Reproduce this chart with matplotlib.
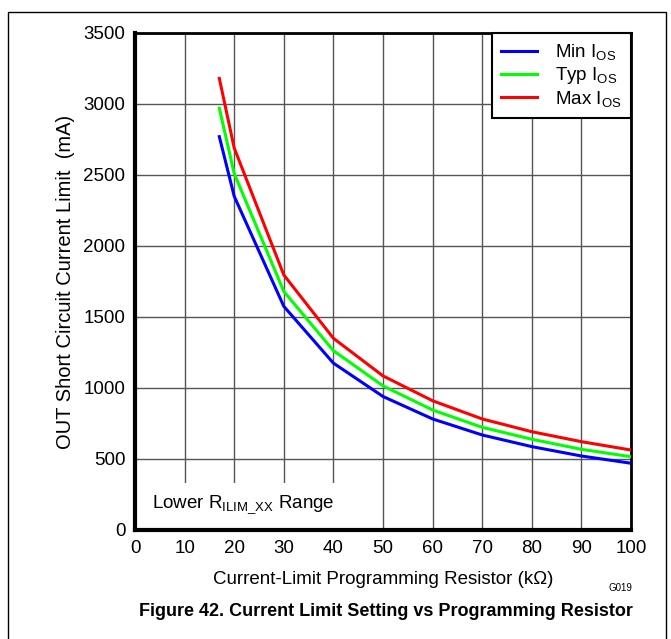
import numpy as np
import matplotlib
matplotlib.use("Agg")
import matplotlib.pyplot as plt
from matplotlib.patches import Rectangle

plt.rcParams['font.family'] = ['Liberation Sans', 'DejaVu Sans']
plt.rcParams['mathtext.fontset'] = 'custom'
plt.rcParams['mathtext.rm'] = 'Liberation Sans'
plt.rcParams['mathtext.it'] = 'Liberation Sans'

# resistor values (kOhm)
r_kohm = [17, 20, 30, 40, 50, 60, 70, 80, 90, 100]
# short circuit current limit (mA)
i_min = [2770, 2350, 1575, 1175, 940, 782, 669, 587, 521, 470]
i_typ = [2970, 2510, 1680, 1263, 1015, 845, 723, 639, 568, 516]
i_max = [3180, 2690, 1796, 1350, 1085, 910, 782, 692, 622, 563]

series = [
    (i_min, 'blue', r'Min I$_{\mathrm{OS}}$'),
    (i_typ, '#00ff00', r'Typ I$_{\mathrm{OS}}$'),
    (i_max, 'red', r'Max I$_{\mathrm{OS}}$'),
]

fs = 13.5

fig = plt.figure(figsize=(6.71, 6.39), dpi=100)
ax = fig.add_axes([0.2012, 0.1706, 0.7392, 0.7778])

for vals, col, lab in series:
    ax.plot(r_kohm, vals, color=col, lw=2.2, label=lab, zorder=3)

ax.set_xlim(0, 100)
ax.set_ylim(0, 3500)
ax.set_xticks(np.arange(0, 101, 10))
ax.set_yticks(np.arange(0, 3501, 500))
ax.grid(True, color='#555555', lw=1.0, zorder=0)
ax.set_axisbelow(True)
ax.tick_params(length=0, labelsize=fs, pad=7)

# white patch behind the range note
ax.add_patch(Rectangle((0, 0), 45, 330, facecolor='white', edgecolor='none', zorder=1))
ax.text(3.4, 176, r'Lower R$_{\mathrm{ILIM\_XX}}$ Range', fontsize=fs, va='center', zorder=4)

for s in ['left', 'bottom']:
    ax.spines[s].set_linewidth(3)
for s in ['top', 'right']:
    ax.spines[s].set_linewidth(2)

ax.set_xlabel(u'Current-Limit Programming Resistor (k\u03a9)', fontsize=fs, labelpad=10)
ax.set_ylabel('OUT Short Circuit Current Limit  (mA)', fontsize=14.5, labelpad=6)

leg = ax.legend(loc='upper right', borderaxespad=0, fancybox=False, fontsize=fs,
                handlelength=1.9, handletextpad=1.0, labelspacing=0.15, framealpha=1,
                borderpad=0.5)
leg.get_frame().set_edgecolor('black')
leg.get_frame().set_linewidth(1.5)

fig.text(620 / 671, 1 - 588 / 639, 'G019', fontsize=7, ha='center', va='center')
fig.text(386 / 671, 1 - 612 / 639, 'Figure 42. Current Limit Setting vs Programming Resistor',
         fontsize=13, fontweight='bold', ha='center', va='center')

# outer frame
fig.add_artist(Rectangle((8 / 671, -0.05), 658 / 671, 1.05 - 12 / 639,
                         transform=fig.transFigure, fill=False, edgecolor='black', lw=1))

fig.savefig('out.png', dpi=100)
